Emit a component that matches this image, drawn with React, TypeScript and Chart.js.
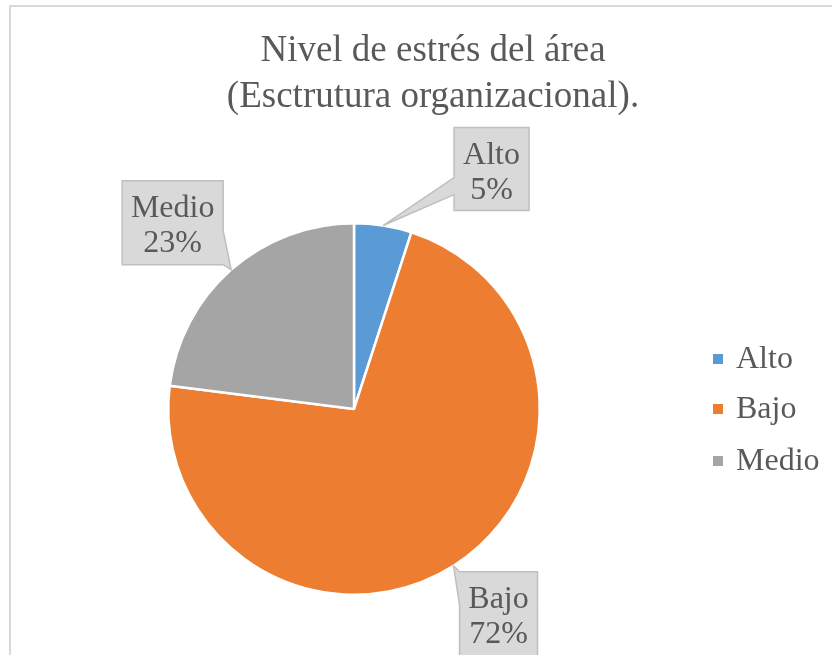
import React, { useEffect, useRef } from 'react';
import { Chart, registerables } from 'chart.js';

Chart.register(...registerables);

const TITLE_LINES = ['Nivel de estrés del área', '(Esctrutura organizacional).'];
const CATEGORIES = ['Alto', 'Bajo', 'Medio'];
const VALUES = [5, 72, 23];
const COLORS = ['#5B9BD5', '#ED7D31', '#A5A5A5'];

const FONT = '"Liberation Serif", "Times New Roman", serif';
const TEXT_COLOR = '#595959';
const TITLE_SIZE = 37;
const LABEL_SIZE = 32;

// Callout box layout relative to the slice tip (outer edge at mid-angle)
type Callout = { dx: number; dy: number; w: number; h: number; side: 'left' | 'right'; b0: number; b1: number };
const CALLOUTS: Callout[] = [
  { dx: 71, dy: -98, w: 75, h: 83, side: 'left', b0: 50, b1: 67 },
  { dx: 6, dy: 6, w: 78, h: 100, side: 'left', b0: 0, b1: 33 },
  { dx: -109, dy: -89, w: 101, h: 84, side: 'right', b0: 50, b1: 84 },
];

const overlayPlugin = {
  id: 'overlay',
  beforeDraw(chart: any) {
    const ctx = chart.ctx;
    ctx.save();
    ctx.fillStyle = '#ffffff';
    ctx.fillRect(0, 0, chart.width, chart.height);
    ctx.strokeStyle = '#d9d9d9';
    ctx.lineWidth = 2;
    ctx.strokeRect(10, 6, chart.width + 20, chart.height + 20);
    // title
    ctx.fillStyle = TEXT_COLOR;
    ctx.font = `${TITLE_SIZE}px ${FONT}`;
    ctx.textAlign = 'center';
    ctx.textBaseline = 'middle';
    ctx.fillText(TITLE_LINES[0], 433, 51);
    ctx.fillText(TITLE_LINES[1], 433, 97);
    ctx.restore();
  },
  afterDatasetsDraw(chart: any) {
    const ctx = chart.ctx;
    const meta = chart.getDatasetMeta(0);
    const total = VALUES.reduce((a, b) => a + b, 0);
    ctx.save();
    meta.data.forEach((arc: any, i: number) => {
      const mid = (arc.startAngle + arc.endAngle) / 2;
      const tx = arc.x + Math.cos(mid) * arc.outerRadius;
      const ty = arc.y + Math.sin(mid) * arc.outerRadius;
      const c = CALLOUTS[i];
      const bx = tx + c.dx;
      const by = ty + c.dy;
      ctx.beginPath();
      if (c.side === 'left') {
        ctx.moveTo(bx, by);
        ctx.lineTo(bx + c.w, by);
        ctx.lineTo(bx + c.w, by + c.h);
        ctx.lineTo(bx, by + c.h);
        ctx.lineTo(bx, by + c.b1);
        ctx.lineTo(tx, ty);
        ctx.lineTo(bx, by + c.b0);
        ctx.closePath();
      } else {
        const rx = bx + c.w;
        ctx.moveTo(bx, by);
        ctx.lineTo(rx, by);
        ctx.lineTo(rx, by + c.b0);
        ctx.lineTo(tx, ty);
        ctx.lineTo(rx, by + c.b1);
        ctx.lineTo(rx, by + c.h);
        ctx.lineTo(bx, by + c.h);
        ctx.closePath();
      }
      ctx.fillStyle = '#d9d9d9';
      ctx.fill();
      ctx.strokeStyle = '#bfbfbf';
      ctx.lineWidth = 1.5;
      ctx.lineJoin = 'miter';
      ctx.stroke();
      ctx.fillStyle = TEXT_COLOR;
      ctx.font = `${LABEL_SIZE}px ${FONT}`;
      ctx.textAlign = 'center';
      ctx.textBaseline = 'middle';
      const pct = Math.round((VALUES[i] / total) * 100) + '%';
      ctx.fillText(CATEGORIES[i], bx + c.w / 2, by + 28);
      ctx.fillText(pct, bx + c.w / 2, by + 63);
    });
    // legend
    const cy = (chart.chartArea.top + chart.chartArea.bottom) / 2;
    const offs = [-50, 0, 52];
    ctx.font = `${LABEL_SIZE}px ${FONT}`;
    ctx.textAlign = 'left';
    ctx.textBaseline = 'middle';
    CATEGORIES.forEach((name, i) => {
      const y = cy + offs[i];
      ctx.fillStyle = COLORS[i];
      ctx.fillRect(713, y - 5, 10, 10);
      ctx.fillStyle = TEXT_COLOR;
      ctx.fillText(name, 736, y + 1);
    });
    ctx.restore();
  },
};

export default function App() {
  const ref = useRef<HTMLCanvasElement>(null);
  useEffect(() => {
    if (!ref.current) return;
    const chart = new Chart(ref.current, {
      type: 'pie',
      data: {
        labels: CATEGORIES,
        datasets: [
          {
            data: VALUES,
            backgroundColor: COLORS,
            borderColor: '#ffffff',
            borderWidth: 2.5,
            hoverOffset: 0,
          },
        ],
      },
      options: {
        responsive: false,
        animation: false,
        layout: { padding: { left: 167, right: 291, top: 222, bottom: 59 } },
        plugins: {
          legend: { display: false },
          title: { display: false },
          tooltip: { enabled: false },
        },
      },
      plugins: [overlayPlugin],
    });
    return () => chart.destroy();
  }, []);
  return (
    <div style={{ position: 'fixed', left: 0, top: 0, width: 832, height: 655, background: '#fff' }}>
      <canvas ref={ref} width={832} height={655} style={{ width: 832, height: 655, display: 'block' }} />
    </div>
  );
}
